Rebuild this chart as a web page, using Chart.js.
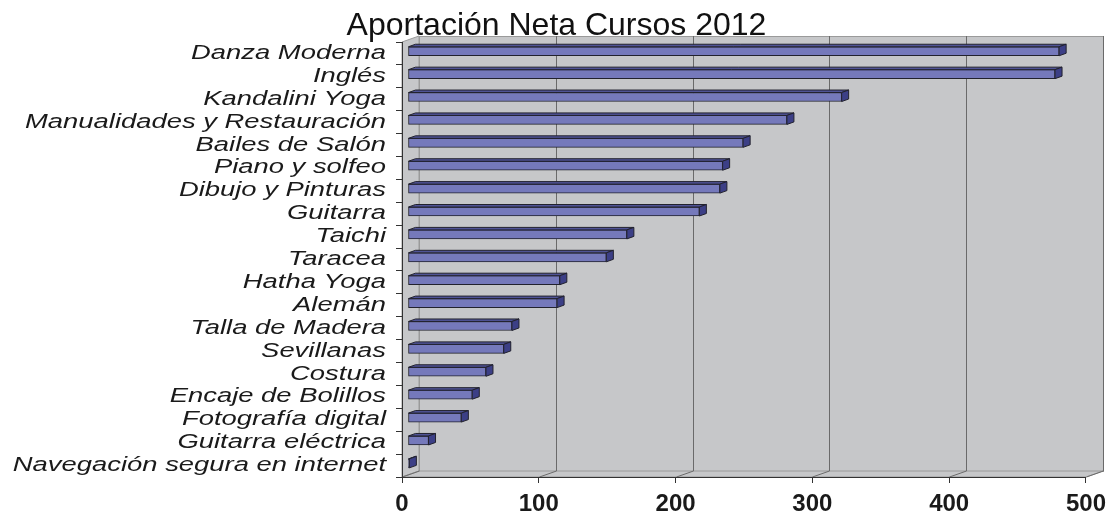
<!DOCTYPE html>
<html>
<head>
<meta charset="utf-8">
<script src="https://cdn.jsdelivr.net/npm/chart.js@4.4.1/dist/chart.umd.min.js"></script>
<style>
  html, body { margin: 0; padding: 0; background: #fff; }
  #wrap { width: 1113px; height: 511px; }
</style>
</head>
<body>
<div id="wrap"><canvas id="chart"></canvas></div>
<script>
// ── Datos ────────────────────────────────────────────────────────────
const titulo = 'Aportación Neta Cursos 2012';

const cursos = [
  'Danza Moderna', 'Inglés', 'Kandalini Yoga', 'Manualidades y Restauración',
  'Bailes de Salón', 'Piano y solfeo', 'Dibujo y Pinturas', 'Guitarra',
  'Taichi', 'Taracea', 'Hatha Yoga', 'Alemán', 'Talla de Madera',
  'Sevillanas', 'Costura', 'Encaje de Bolillos', 'Fotografía digital',
  'Guitarra eléctrica', 'Navegación segura en internet'
];

const aportacion = [
  476, 473, 317, 277, 245, 230, 228, 213, 160, 145,
  111, 109, 76, 70, 57, 47, 39, 15, 1
];

const ejeMin  = 0;
const ejeMax  = 500;
const ejePaso = 100;

// ── Aspecto ──────────────────────────────────────────────────────────
const FONT = "'Liberation Sans', Arial, sans-serif";
const WALL_DX = 17, WALL_DY = -6;      // profundidad de la pared del fondo
const BAR_DX = 6,  BAR_DY = -2.2;      // posición de las barras en la profundidad
const DEPTH_DX = 7, DEPTH_DY = -2.5;   // grosor 3D de cada barra
const LABEL_STRETCH = 1.37;            // etiquetas más anchas, como en el original

const COL = {
  wall:  '#c6c7c9',
  wallEdge: '#9a9a9a',
  grid:  '#6a6a6a',
  front: '#7579bb',
  top:   '#4f5396',
  side:  '#3c3f86',
  edge:  '#22222e',
  axis:  '#333333',
  text:  '#1a1a1a',
};

// Paredes, suelo y rejilla del fondo
const wallsPlugin = {
  id: 'walls3d',
  beforeDraw(chart) {
    const { ctx, chartArea: { left, right, top, bottom } } = chart;
    const x = chart.scales.x;
    ctx.save();
    ctx.fillStyle = COL.wall;
    ctx.strokeStyle = COL.wallEdge;
    ctx.lineWidth = 1;
    // pared del fondo
    ctx.fillRect(left + WALL_DX, top + WALL_DY, right - left, bottom - top);
    ctx.strokeRect(left + WALL_DX + 0.5, top + WALL_DY + 0.5, right - left, bottom - top);
    // pared izquierda
    ctx.beginPath();
    ctx.moveTo(left, top);
    ctx.lineTo(left + WALL_DX, top + WALL_DY);
    ctx.lineTo(left + WALL_DX, bottom + WALL_DY);
    ctx.lineTo(left, bottom);
    ctx.closePath();
    ctx.fill();
    ctx.stroke();
    // suelo
    ctx.beginPath();
    ctx.moveTo(left, bottom);
    ctx.lineTo(left + WALL_DX, bottom + WALL_DY);
    ctx.lineTo(right + WALL_DX, bottom + WALL_DY);
    ctx.lineTo(right, bottom);
    ctx.closePath();
    ctx.fill();
    ctx.stroke();
    // rejilla vertical en la pared + líneas del suelo
    x.ticks.forEach((t, i) => {
      const px = Math.round(x.getPixelForTick(i)) + 0.5;
      ctx.strokeStyle = i === 0 ? COL.wallEdge : COL.grid;
      ctx.beginPath();
      ctx.moveTo(px + WALL_DX, top + WALL_DY);
      ctx.lineTo(px + WALL_DX, bottom + WALL_DY);
      ctx.stroke();
      ctx.strokeStyle = COL.grid;
      ctx.beginPath();
      ctx.moveTo(px, bottom);
      ctx.lineTo(px + WALL_DX, bottom + WALL_DY);
      ctx.stroke();
    });
    ctx.restore();

    // etiquetas de categorías estiradas en horizontal
    const y = chart.scales.y;
    if (!y._stretched) {
      const orig = y.drawLabels.bind(y);
      y.drawLabels = function (area) {
        const c = this.ctx;
        const ax = this.right - this.options.grid.tickLength - this.options.ticks.padding;
        c.save();
        c.translate(ax, 0);
        c.scale(LABEL_STRETCH, 1);
        c.translate(-ax, 0);
        orig(area);
        c.restore();
      };
      y._stretched = true;
    }
  },

  beforeDatasetsDraw(chart) {
    chart.ctx.save();
    chart.ctx.translate(BAR_DX, BAR_DY);
  },

  afterDatasetsDraw(chart) {
    const ctx = chart.ctx;
    const meta = chart.getDatasetMeta(0);
    ctx.lineWidth = 1;
    ctx.strokeStyle = COL.edge;
    meta.data.forEach(bar => {
      const { x, y, base, height } = bar.getProps(['x', 'y', 'base', 'height'], true);
      const yt = y - height / 2, yb = y + height / 2;
      // cara superior
      ctx.beginPath();
      ctx.moveTo(base, yt);
      ctx.lineTo(base + DEPTH_DX, yt + DEPTH_DY);
      ctx.lineTo(x + DEPTH_DX, yt + DEPTH_DY);
      ctx.lineTo(x, yt);
      ctx.closePath();
      ctx.fillStyle = COL.top;
      ctx.fill();
      ctx.stroke();
      // cara lateral
      ctx.beginPath();
      ctx.moveTo(x, yt);
      ctx.lineTo(x + DEPTH_DX, yt + DEPTH_DY);
      ctx.lineTo(x + DEPTH_DX, yb + DEPTH_DY);
      ctx.lineTo(x, yb);
      ctx.closePath();
      ctx.fillStyle = COL.side;
      ctx.fill();
      ctx.stroke();
    });
    ctx.restore();
  },

  afterDraw(chart) {
    const ctx = chart.ctx;
    ctx.save();
    ctx.font = `400 32px ${FONT}`;
    ctx.fillStyle = '#111';
    ctx.textAlign = 'center';
    ctx.textBaseline = 'alphabetic';
    ctx.fillText(titulo, chart.width / 2, 35);
    ctx.restore();
  },
};

new Chart(document.getElementById('chart'), {
  type: 'bar',
  data: {
    labels: cursos,
    datasets: [{
      label: titulo,
      data: aportacion,
      backgroundColor: COL.front,
      borderColor: COL.edge,
      borderWidth: 1,
      borderSkipped: false,
      barThickness: 9,
    }],
  },
  options: {
    indexAxis: 'y',
    responsive: true,
    maintainAspectRatio: false,
    animation: false,
    layout: { padding: { top: 42, right: 27, bottom: 0, left: 0 } },
    scales: {
      x: {
        min: ejeMin,
        max: ejeMax,
        ticks: {
          stepSize: ejePaso,
          color: COL.text,
          padding: 7,
          font: { family: FONT, size: 24, weight: 'bold' },
        },
        grid: { drawOnChartArea: false, tickLength: 6, color: COL.axis },
        border: { color: COL.axis },
        afterFit(s) { s.height = 34; },
      },
      y: {
        ticks: {
          color: COL.text,
          padding: 10,
          autoSkip: false,
          font: { family: FONT, size: 20, style: 'italic' },
        },
        grid: { offset: true, drawOnChartArea: false, tickLength: 6, color: COL.axis },
        border: { color: COL.axis },
        afterFit(s) { s.width = 402; },
      },
    },
    plugins: {
      legend: { display: false },
      tooltip: { enabled: false },
      title: { display: false },
    },
  },
  plugins: [wallsPlugin],
});
</script>
</body>
</html>
